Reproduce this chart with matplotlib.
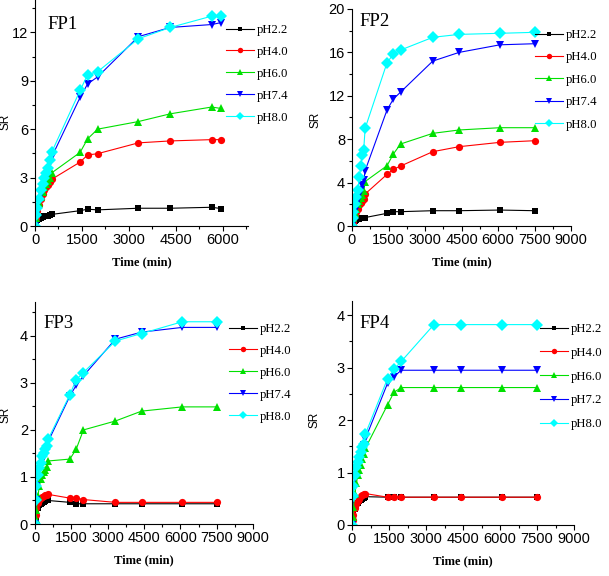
import numpy as np
import matplotlib
matplotlib.use("Agg")
import matplotlib.pyplot as plt
from matplotlib.ticker import MultipleLocator, AutoMinorLocator

# sampling times (min)
t_early = [0, 30, 60, 120, 180, 240, 300, 360, 420, 480, 540]
t_fp1 = t_early + [1440, 1680, 2000, 3300, 4320, 5640, 5940]
t_long = t_early + [1440, 1700, 2000, 3320, 4400, 6080, 7500]

# FP1
fp1_22 = [0, 0.2, 0.35, 0.45, 0.5, 0.55, 0.6, 0.62, 0.65, 0.68, 0.72, 0.95, 1.04, 1.0, 1.1, 1.1, 1.16, 1.08]
fp1_40 = [0, 0.5, 0.9, 1.3, 1.7, 2.0, 2.2, 2.4, 2.55, 2.7, 2.9, 3.96, 4.4, 4.48, 5.15, 5.27, 5.35, 5.35]
fp1_60 = [0, 0.5, 0.9, 1.4, 1.8, 2.1, 2.4, 2.6, 2.8, 3.0, 3.3, 4.56, 5.4, 6.0, 6.47, 6.95, 7.37, 7.28]
fp1_74 = [0, 0.6, 1.0, 1.6, 2.0, 2.5, 2.8, 3.0, 3.5, 3.9, 4.3, 7.97, 8.8, 9.24, 11.73, 12.3, 12.48, 12.6]
fp1_80 = [0, 0.7, 1.1, 1.7, 2.2, 2.6, 3.0, 3.3, 3.6, 4.1, 4.6, 8.4, 9.38, 9.56, 11.6, 12.3, 13.0, 13.0]

# FP2
fp2_22 = [0, 0.15, 0.3, 0.45, 0.55, 0.6, 0.65, 0.7, 0.72, 0.75, 0.78, 1.17, 1.32, 1.32, 1.41, 1.41, 1.47, 1.41]
fp2_40 = [0, 0.3, 0.6, 1.0, 1.3, 1.6, 1.9, 2.1, 2.3, 2.5, 2.95, 4.76, 5.22, 5.53, 6.85, 7.31, 7.71, 7.86]
fp2_60 = [0, 0.3, 0.7, 1.2, 1.6, 2.0, 2.3, 2.6, 2.9, 3.2, 4.1, 5.56, 6.64, 7.56, 8.54, 8.85, 9.06, 9.06]
fp2_74 = [0, 0.5, 0.9, 1.4, 1.9, 2.4, 2.9, 3.3, 3.8, 4.2, 5.1, 10.7, 11.7, 12.35, 15.2, 16.0, 16.7, 16.8]
fp2_80 = [0, 0.7, 1.3, 2.0, 2.7, 3.3, 4.5, 5.5, 6.5, 7.0, 9.0, 15.05, 15.85, 16.22, 17.39, 17.66, 17.76, 17.85]

# FP3
fp3_22 = [0, 0.15, 0.25, 0.35, 0.4, 0.43, 0.45, 0.47, 0.48, 0.5, 0.5, 0.46, 0.43, 0.43, 0.43, 0.43, 0.43, 0.43]
fp3_40 = [0, 0.2, 0.35, 0.45, 0.5, 0.55, 0.57, 0.6, 0.61, 0.62, 0.63, 0.55, 0.55, 0.52, 0.46, 0.46, 0.46, 0.46]
fp3_60 = [0, 0.1, 0.3, 0.6, 0.8, 0.95, 1.05, 1.1, 1.15, 1.22, 1.34, 1.38, 1.59, 2.0, 2.19, 2.4, 2.49, 2.49]
fp3_74 = [0, 0.5, 0.8, 1.0, 1.15, 1.25, 1.35, 1.45, 1.55, 1.62, 1.75, 2.72, 2.95, 3.15, 3.93, 4.08, 4.18, 4.18]
fp3_80 = [0, 0.5, 0.8, 1.05, 1.2, 1.3, 1.45, 1.5, 1.6, 1.65, 1.8, 2.75, 3.07, 3.22, 3.89, 4.05, 4.3, 4.3]

# FP4
fp4_22 = [0, 0.1, 0.2, 0.3, 0.38, 0.42, 0.46, 0.48, 0.5, 0.52, 0.54, 0.53, 0.53, 0.53, 0.53, 0.53, 0.53, 0.53]
fp4_40 = [0, 0.1, 0.2, 0.32, 0.4, 0.45, 0.5, 0.55, 0.58, 0.6, 0.6, 0.53, 0.53, 0.53, 0.53, 0.53, 0.53, 0.53]
fp4_60 = [0, 0.15, 0.35, 0.6, 0.8, 0.95, 1.05, 1.15, 1.25, 1.35, 1.46, 2.29, 2.53, 2.62, 2.62, 2.62, 2.62, 2.62]
fp4_72 = [0, 0.5, 0.7, 0.9, 1.05, 1.15, 1.25, 1.35, 1.45, 1.52, 1.64, 2.7, 2.83, 2.95, 2.95, 2.95, 2.95, 2.95]
fp4_80 = [0, 0.55, 0.75, 0.95, 1.1, 1.2, 1.3, 1.4, 1.48, 1.55, 1.73, 2.79, 2.97, 3.12, 3.82, 3.82, 3.82, 3.82]

labels_a = ['pH2.2', 'pH4.0', 'pH6.0', 'pH7.4', 'pH8.0']
labels_b = ['pH2.2', 'pH4.0', 'pH6.0', 'pH7.2', 'pH8.0']

colors = ['black', '#ff0000', '#00e000', '#0000ff', '#00ffff']
markers = ['s', 'o', '^', 'v', 'D']
msizes = [4.8, 5.2, 6.3, 6.3, 5.8]

panels = [
    dict(name='FP1', t=t_fp1, ys=[fp1_22, fp1_40, fp1_60, fp1_74, fp1_80], labels=labels_a,
         rect=[35/609, 1-226/576, 213/609, 226/576], xlim=6800, xmaj=1500, ylim=14, ymaj=3,
         leg=(226/609, 1-24/576), lsp=0.78, txt=(47/609, 1-24.5/576), ylab=(-0.11, 0.46)),
    dict(name='FP2', t=t_long, ys=[fp2_22, fp2_40, fp2_60, fp2_74, fp2_80], labels=labels_a,
         rect=[352/609, 1-226/576, 219/609, 217/576], xlim=9000, xmaj=1500, ylim=20, ymaj=4,
         leg=(535/609, 1-29/576), lsp=0.82, txt=(359/609, 1-21.5/576), ylab=(-0.137, 0.49)),
    dict(name='FP3', t=t_long, ys=[fp3_22, fp3_40, fp3_60, fp3_74, fp3_80], labels=labels_a,
         rect=[35/609, 1-524/576, 218/609, 222/576], xlim=9000, xmaj=1500, ylim=4.72, ymaj=1,
         leg=(229/609, 1-323/576), lsp=0.78, txt=(43/609, 1-323/576), ylab=(-0.108, 0.49)),
    dict(name='FP4', t=t_long, ys=[fp4_22, fp4_40, fp4_60, fp4_72, fp4_80], labels=labels_b,
         rect=[352/609, 1-525/576, 222/609, 224/576], xlim=9000, xmaj=1500, ylim=4.27, ymaj=1,
         leg=(540/609, 1-323/576), lsp=0.92, txt=(359/609, 1-323.5/576), ylab=(-0.144, 0.47)),
]

tick_font = ['Liberation Sans', 'DejaVu Sans']
serif = ['Liberation Serif', 'DejaVu Serif']

fig = plt.figure(figsize=(6.09, 5.76), dpi=100)

for p in panels:
    ax = fig.add_axes(p['rect'])
    for y, c, m, ms, lab in zip(p['ys'], colors, markers, msizes, p['labels']):
        ax.plot(p['t'], y, color=c, marker=m, markersize=ms, lw=0.8,
                markeredgewidth=0, label=lab)
    ax.set_xlim(0, p['xlim'])
    ax.set_ylim(0, p['ylim'])
    ax.xaxis.set_major_locator(MultipleLocator(p['xmaj']))
    ax.yaxis.set_major_locator(MultipleLocator(p['ymaj']))
    ax.xaxis.set_minor_locator(AutoMinorLocator(2))
    ax.yaxis.set_minor_locator(AutoMinorLocator(2))
    ax.spines['top'].set_visible(False)
    ax.spines['right'].set_visible(False)
    for s in ['left', 'bottom']:
        ax.spines[s].set_linewidth(0.8)
    ax.tick_params(which='major', direction='out', length=3.5, width=0.8, pad=1.5)
    ax.tick_params(which='minor', direction='out', length=2, width=0.8)
    for lbl in ax.get_xticklabels() + ax.get_yticklabels():
        lbl.set_family(tick_font)
        lbl.set_fontsize(10.5)
    ax.set_xlabel('Time (min)', family=serif, fontweight='bold', fontsize=9, labelpad=7)
    ax.set_ylabel('SR', family=['Liberation Sans', 'DejaVu Sans'], fontsize=8.5)
    ax.yaxis.set_label_coords(*p['ylab'])
    fig.text(p['txt'][0], p['txt'][1], p['name'], family=serif, fontsize=13.5, va='center', ha='left')
    ax.legend(loc='upper left', bbox_to_anchor=p['leg'], bbox_transform=fig.transFigure,
              frameon=False, borderpad=0, borderaxespad=0, handlelength=2.2,
              handletextpad=0.2, labelspacing=p['lsp'], markerscale=0.75,
              prop={'family': serif, 'size': 9.2})

fig.savefig('out.png', dpi=100)
